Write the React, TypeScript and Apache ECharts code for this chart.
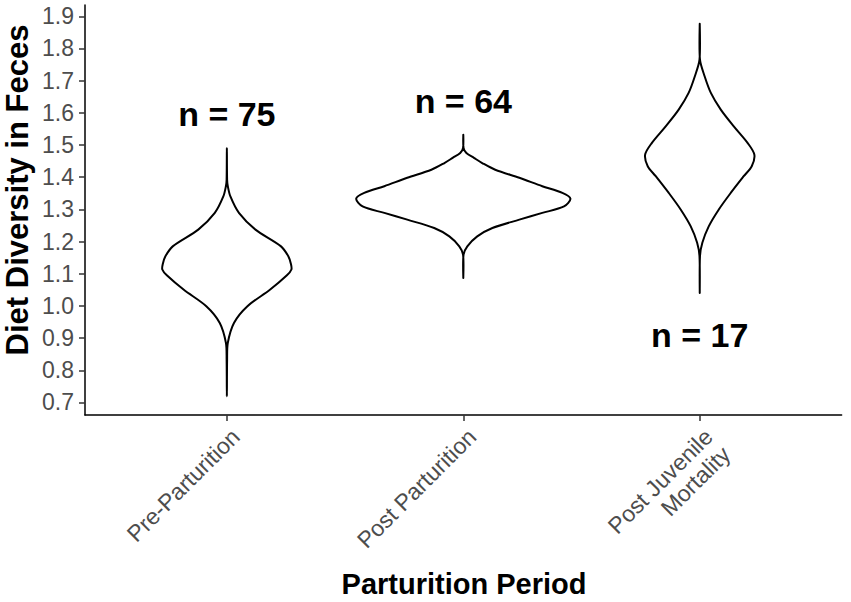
import React, { useEffect, useRef } from "react";
import * as echarts from "echarts";

// Categories (x positions 1, 2, 3)
const categories = ["Pre-Parturition", "Post Parturition", "Post Juvenile\nMortality"];
const catPos = [1, 2, 3];

// Violin outlines: y values and half-widths (in category units)
const preY = [1.491, 1.392, 1.372, 1.340, 1.289, 1.237, 1.185, 1.154, 1.130, 1.113, 1.095, 1.050, 0.999, 0.947, 0.885, 0.833, 0.719];
const preW = [0, 0.001, 0.004, 0.015, 0.051, 0.121, 0.229, 0.260, 0.271, 0.273, 0.254, 0.182, 0.087, 0.030, 0.004, 0.001, 0];

const postY = [1.532, 1.491, 1.475, 1.460, 1.444, 1.423, 1.398, 1.372, 1.351, 1.333, 1.309, 1.289, 1.268, 1.242, 1.216, 1.185, 1.159, 1.087];
const postW = [0, 0.001, 0.013, 0.045, 0.080, 0.135, 0.237, 0.334, 0.419, 0.453, 0.426, 0.334, 0.237, 0.123, 0.059, 0.017, 0.001, 0];

const juvY = [1.877, 1.765, 1.713, 1.662, 1.610, 1.558, 1.506, 1.470, 1.434, 1.403, 1.351, 1.299, 1.247, 1.196, 1.154, 1.040];
const juvW = [0, 0.001, 0.021, 0.047, 0.089, 0.144, 0.203, 0.231, 0.220, 0.186, 0.131, 0.080, 0.038, 0.011, 0.001, 0];

const violinY = [preY, postY, juvY];
const violinW = [preW, postW, juvW];

// Sample-size annotations
const nLabels = ["n = 75", "n = 64", "n = 17"];
const nLabelY = [1.595, 1.638, 0.911];

// Axis
const yTicks = [0.7, 0.8, 0.9, 1.0, 1.1, 1.2, 1.3, 1.4, 1.5, 1.6, 1.7, 1.8, 1.9];
const yMin = 0.661;
const yMax = 1.935;

const FONT = "'Liberation Sans', Arial, Helvetica, sans-serif";

export default function App() {
  const ref = useRef<HTMLDivElement>(null);
  useEffect(() => {
    document.body.style.margin = "0";
    if (!ref.current) return;
    const chart = echarts.init(ref.current, null, { renderer: "svg" });
    const option: any = {
      animation: false,
      backgroundColor: "#ffffff",
      grid: { left: 85, right: 9.4, top: 5, bottom: 187 },
      xAxis: {
        type: "value",
        min: 0.4,
        max: 3.6,
        splitLine: { show: false },
        axisLine: { show: true, onZero: false, lineStyle: { color: "#000", width: 1.5 } },
        axisTick: { show: true, customValues: catPos, length: 6, lineStyle: { color: "#333", width: 1.5 } },
        axisLabel: {
          customValues: catPos,
          formatter: (v: number) => categories[Math.round(v) - 1] || "",
          rotate: 45,
          margin: 9,
          fontSize: 23,
          color: "#4d4d4d",
          fontFamily: FONT,
          lineHeight: 25,
          align: "right",
          verticalAlign: "top",
        },
      },
      yAxis: {
        type: "value",
        min: yMin,
        max: yMax,
        splitLine: { show: false },
        axisLine: { show: true, onZero: false, lineStyle: { color: "#000", width: 1.5 } },
        axisTick: { show: true, customValues: yTicks, length: 6, lineStyle: { color: "#333", width: 1.5 } },
        axisLabel: {
          customValues: yTicks,
          formatter: (v: number) => v.toFixed(1),
          margin: 11,
          fontSize: 23,
          color: "#4d4d4d",
          fontFamily: FONT,
        },
      },
      graphic: [
        {
          type: "text",
          x: 17,
          y: 190,
          rotation: Math.PI / 2,
          style: {
            text: "Diet Diversity in Feces",
            fontSize: 31,
            fontWeight: "bold",
            fontFamily: FONT,
            fill: "#000",
            align: "center",
            verticalAlign: "middle",
          },
        },
        {
          type: "text",
          x: 464,
          y: 584,
          style: {
            text: "Parturition Period",
            fontSize: 29,
            fontWeight: "bold",
            fontFamily: FONT,
            fill: "#000",
            align: "center",
            verticalAlign: "middle",
          },
        },
      ],
      series: [
        {
          type: "custom",
          silent: true,
          data: catPos.map((x, i) => [x, violinY[i][0]]),
          encode: { x: 0, y: 1 },
          renderItem: (params: any, api: any) => {
            const i = params.dataIndex;
            const cx = api.value(0);
            const ys = violinY[i];
            const ws = violinW[i];
            const pts: number[][] = [];
            for (let k = 0; k < ys.length; k++) pts.push(api.coord([cx + ws[k], ys[k]]));
            for (let k = ys.length - 2; k >= 1; k--) pts.push(api.coord([cx - ws[k], ys[k]]));
            return {
              type: "polygon",
              shape: { points: pts, smooth: 0.3 },
              style: { fill: "#ffffff", stroke: "#000000", lineWidth: 2 },
            };
          },
        },
        {
          type: "scatter",
          silent: true,
          symbolSize: 0,
          itemStyle: { color: "#000", opacity: 1 },
          data: catPos.map((x, i) => [x, nLabelY[i]]),
          label: {
            show: true,
            position: "inside",
            formatter: (p: any) => nLabels[p.dataIndex],
            fontSize: 34,
            fontWeight: "bold",
            fontFamily: FONT,
            color: "#000",
            opacity: 1,
            textBorderWidth: 0,
          },
        },
      ],
    };
    chart.setOption(option);
    return () => chart.dispose();
  }, []);
  return <div ref={ref} style={{ width: 851, height: 602 }} />;
}
